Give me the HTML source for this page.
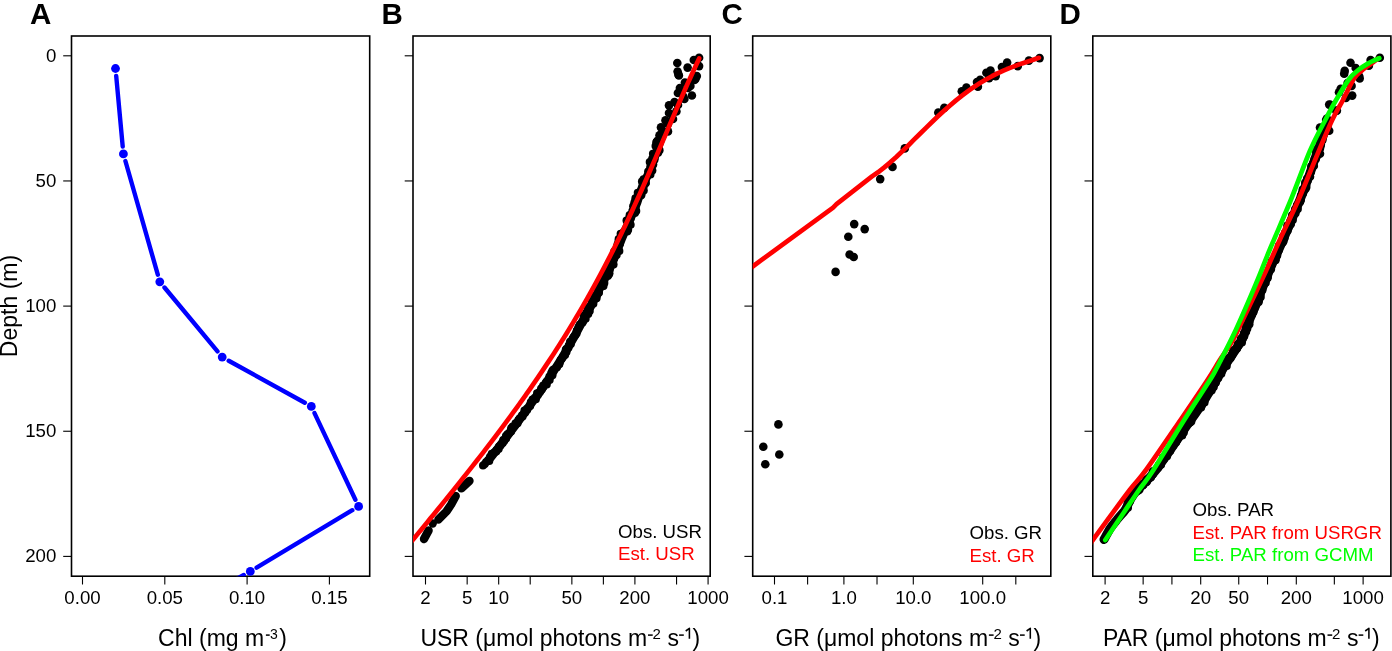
<!DOCTYPE html>
<html><head><meta charset="utf-8"><style>html,body{margin:0;padding:0;background:#fff;overflow:hidden}svg{display:block;will-change:transform}</style></head>
<body><svg width="1392" height="651" viewBox="0 0 1392 651" font-family='"Liberation Sans", sans-serif'><defs><clipPath id="clipA"><rect x="71.50" y="36.00" width="298.20" height="540.20"/></clipPath><clipPath id="clipB"><rect x="413.00" y="36.00" width="297.20" height="540.20"/></clipPath><clipPath id="clipC"><rect x="752.70" y="36.00" width="298.10" height="540.20"/></clipPath><clipPath id="clipD"><rect x="1092.80" y="36.00" width="298.10" height="540.20"/></clipPath></defs><rect width="1392" height="651" fill="#fff"/><rect x="71.50" y="36.00" width="298.20" height="540.20" fill="none" stroke="#000" stroke-width="1.6"/>
<line x1="63.20" y1="55.80" x2="71.50" y2="55.80" stroke="#000" stroke-width="1.1"/>
<line x1="63.20" y1="180.95" x2="71.50" y2="180.95" stroke="#000" stroke-width="1.1"/>
<line x1="63.20" y1="306.10" x2="71.50" y2="306.10" stroke="#000" stroke-width="1.1"/>
<line x1="63.20" y1="431.25" x2="71.50" y2="431.25" stroke="#000" stroke-width="1.1"/>
<line x1="63.20" y1="556.40" x2="71.50" y2="556.40" stroke="#000" stroke-width="1.1"/>
<rect x="413.00" y="36.00" width="297.20" height="540.20" fill="none" stroke="#000" stroke-width="1.6"/>
<line x1="404.70" y1="55.80" x2="413.00" y2="55.80" stroke="#000" stroke-width="1.1"/>
<line x1="404.70" y1="180.95" x2="413.00" y2="180.95" stroke="#000" stroke-width="1.1"/>
<line x1="404.70" y1="306.10" x2="413.00" y2="306.10" stroke="#000" stroke-width="1.1"/>
<line x1="404.70" y1="431.25" x2="413.00" y2="431.25" stroke="#000" stroke-width="1.1"/>
<line x1="404.70" y1="556.40" x2="413.00" y2="556.40" stroke="#000" stroke-width="1.1"/>
<rect x="752.70" y="36.00" width="298.10" height="540.20" fill="none" stroke="#000" stroke-width="1.6"/>
<line x1="744.40" y1="55.80" x2="752.70" y2="55.80" stroke="#000" stroke-width="1.1"/>
<line x1="744.40" y1="180.95" x2="752.70" y2="180.95" stroke="#000" stroke-width="1.1"/>
<line x1="744.40" y1="306.10" x2="752.70" y2="306.10" stroke="#000" stroke-width="1.1"/>
<line x1="744.40" y1="431.25" x2="752.70" y2="431.25" stroke="#000" stroke-width="1.1"/>
<line x1="744.40" y1="556.40" x2="752.70" y2="556.40" stroke="#000" stroke-width="1.1"/>
<rect x="1092.80" y="36.00" width="298.10" height="540.20" fill="none" stroke="#000" stroke-width="1.6"/>
<line x1="1084.50" y1="55.80" x2="1092.80" y2="55.80" stroke="#000" stroke-width="1.1"/>
<line x1="1084.50" y1="180.95" x2="1092.80" y2="180.95" stroke="#000" stroke-width="1.1"/>
<line x1="1084.50" y1="306.10" x2="1092.80" y2="306.10" stroke="#000" stroke-width="1.1"/>
<line x1="1084.50" y1="431.25" x2="1092.80" y2="431.25" stroke="#000" stroke-width="1.1"/>
<line x1="1084.50" y1="556.40" x2="1092.80" y2="556.40" stroke="#000" stroke-width="1.1"/>
<text x="56.30" y="61.80" font-size="18.67" text-anchor="end" fill="#000" font-weight="normal" >0</text>
<text x="56.30" y="186.95" font-size="18.67" text-anchor="end" fill="#000" font-weight="normal" >50</text>
<text x="56.30" y="312.10" font-size="18.67" text-anchor="end" fill="#000" font-weight="normal" >100</text>
<text x="56.30" y="437.25" font-size="18.67" text-anchor="end" fill="#000" font-weight="normal" >150</text>
<text x="56.30" y="562.40" font-size="18.67" text-anchor="end" fill="#000" font-weight="normal" >200</text>
<line x1="82.50" y1="576.20" x2="82.50" y2="584.50" stroke="#000" stroke-width="1.1"/>
<line x1="164.80" y1="576.20" x2="164.80" y2="584.50" stroke="#000" stroke-width="1.1"/>
<line x1="247.10" y1="576.20" x2="247.10" y2="584.50" stroke="#000" stroke-width="1.1"/>
<line x1="329.40" y1="576.20" x2="329.40" y2="584.50" stroke="#000" stroke-width="1.1"/>
<text x="82.50" y="603.50" font-size="18.67" text-anchor="middle" fill="#000" font-weight="normal" >0.00</text>
<text x="164.80" y="603.50" font-size="18.67" text-anchor="middle" fill="#000" font-weight="normal" >0.05</text>
<text x="247.10" y="603.50" font-size="18.67" text-anchor="middle" fill="#000" font-weight="normal" >0.10</text>
<text x="329.40" y="603.50" font-size="18.67" text-anchor="middle" fill="#000" font-weight="normal" >0.15</text>
<line x1="425.50" y1="576.20" x2="425.50" y2="584.50" stroke="#000" stroke-width="1.1"/>
<line x1="467.16" y1="576.20" x2="467.16" y2="584.50" stroke="#000" stroke-width="1.1"/>
<line x1="498.68" y1="576.20" x2="498.68" y2="584.50" stroke="#000" stroke-width="1.1"/>
<line x1="530.20" y1="576.20" x2="530.20" y2="584.50" stroke="#000" stroke-width="1.1"/>
<line x1="571.86" y1="576.20" x2="571.86" y2="584.50" stroke="#000" stroke-width="1.1"/>
<line x1="603.38" y1="576.20" x2="603.38" y2="584.50" stroke="#000" stroke-width="1.1"/>
<line x1="634.90" y1="576.20" x2="634.90" y2="584.50" stroke="#000" stroke-width="1.1"/>
<line x1="676.56" y1="576.20" x2="676.56" y2="584.50" stroke="#000" stroke-width="1.1"/>
<line x1="708.08" y1="576.20" x2="708.08" y2="584.50" stroke="#000" stroke-width="1.1"/>
<text x="425.50" y="603.50" font-size="18.67" text-anchor="middle" fill="#000" font-weight="normal" >2</text>
<text x="467.16" y="603.50" font-size="18.67" text-anchor="middle" fill="#000" font-weight="normal" >5</text>
<text x="498.68" y="603.50" font-size="18.67" text-anchor="middle" fill="#000" font-weight="normal" >10</text>
<text x="571.86" y="603.50" font-size="18.67" text-anchor="middle" fill="#000" font-weight="normal" >50</text>
<text x="634.90" y="603.50" font-size="18.67" text-anchor="middle" fill="#000" font-weight="normal" >200</text>
<text x="708.08" y="603.50" font-size="18.67" text-anchor="middle" fill="#000" font-weight="normal" >1000</text>
<line x1="774.50" y1="576.20" x2="774.50" y2="584.50" stroke="#000" stroke-width="1.1"/>
<line x1="807.61" y1="576.20" x2="807.61" y2="584.50" stroke="#000" stroke-width="1.1"/>
<line x1="843.90" y1="576.20" x2="843.90" y2="584.50" stroke="#000" stroke-width="1.1"/>
<line x1="877.01" y1="576.20" x2="877.01" y2="584.50" stroke="#000" stroke-width="1.1"/>
<line x1="913.30" y1="576.20" x2="913.30" y2="584.50" stroke="#000" stroke-width="1.1"/>
<line x1="982.70" y1="576.20" x2="982.70" y2="584.50" stroke="#000" stroke-width="1.1"/>
<line x1="1015.81" y1="576.20" x2="1015.81" y2="584.50" stroke="#000" stroke-width="1.1"/>
<text x="774.50" y="603.50" font-size="18.67" text-anchor="middle" fill="#000" font-weight="normal" >0.1</text>
<text x="843.90" y="603.50" font-size="18.67" text-anchor="middle" fill="#000" font-weight="normal" >1.0</text>
<text x="913.30" y="603.50" font-size="18.67" text-anchor="middle" fill="#000" font-weight="normal" >10.0</text>
<text x="982.70" y="603.50" font-size="18.67" text-anchor="middle" fill="#000" font-weight="normal" >100.0</text>
<line x1="1105.10" y1="576.20" x2="1105.10" y2="584.50" stroke="#000" stroke-width="1.1"/>
<line x1="1143.14" y1="576.20" x2="1143.14" y2="584.50" stroke="#000" stroke-width="1.1"/>
<line x1="1171.92" y1="576.20" x2="1171.92" y2="584.50" stroke="#000" stroke-width="1.1"/>
<line x1="1200.70" y1="576.20" x2="1200.70" y2="584.50" stroke="#000" stroke-width="1.1"/>
<line x1="1238.74" y1="576.20" x2="1238.74" y2="584.50" stroke="#000" stroke-width="1.1"/>
<line x1="1267.52" y1="576.20" x2="1267.52" y2="584.50" stroke="#000" stroke-width="1.1"/>
<line x1="1296.30" y1="576.20" x2="1296.30" y2="584.50" stroke="#000" stroke-width="1.1"/>
<line x1="1334.34" y1="576.20" x2="1334.34" y2="584.50" stroke="#000" stroke-width="1.1"/>
<line x1="1363.12" y1="576.20" x2="1363.12" y2="584.50" stroke="#000" stroke-width="1.1"/>
<text x="1105.10" y="603.50" font-size="18.67" text-anchor="middle" fill="#000" font-weight="normal" >2</text>
<text x="1143.14" y="603.50" font-size="18.67" text-anchor="middle" fill="#000" font-weight="normal" >5</text>
<text x="1200.70" y="603.50" font-size="18.67" text-anchor="middle" fill="#000" font-weight="normal" >20</text>
<text x="1238.74" y="603.50" font-size="18.67" text-anchor="middle" fill="#000" font-weight="normal" >50</text>
<text x="1296.30" y="603.50" font-size="18.67" text-anchor="middle" fill="#000" font-weight="normal" >200</text>
<text x="1363.12" y="603.50" font-size="18.67" text-anchor="middle" fill="#000" font-weight="normal" >1000</text>
<text x="30.00" y="24.00" font-size="29.5" text-anchor="start" fill="#000" font-weight="bold" >A</text>
<text x="381.50" y="24.00" font-size="29.5" text-anchor="start" fill="#000" font-weight="bold" >B</text>
<text x="721.50" y="24.00" font-size="29.5" text-anchor="start" fill="#000" font-weight="bold" >C</text>
<text x="1059.50" y="24.00" font-size="29.5" text-anchor="start" fill="#000" font-weight="bold" >D</text>
<text x="158.10" y="645.5" font-size="23.0">Chl (mg m</text>
<rect x="265.90" y="634.35" width="3.8" height="1.5" fill="#000"/>
<text x="269.90" y="638.5" font-size="14">3</text>
<text x="279.30" y="645.5" font-size="23.0">)</text>
<text x="420.40" y="645.5" font-size="23.0">USR (μmol photons m</text>
<rect x="648.00" y="634.35" width="4.7" height="1.5" fill="#000"/>
<text x="652.60" y="638.7" font-size="15">2</text>
<text x="667.40" y="645.5" font-size="23.0">s</text>
<rect x="679.10" y="634.35" width="4.7" height="1.5" fill="#000"/>
<path d="M689.40,638.70V628.3L685.70,631.0" fill="none" stroke="#000" stroke-width="1.55" stroke-linejoin="round"/>
<text x="692.50" y="645.5" font-size="23.0">)</text>
<text x="775.40" y="645.5" font-size="23.0">GR (μmol photons m</text>
<rect x="988.90" y="634.35" width="4.7" height="1.5" fill="#000"/>
<text x="993.50" y="638.7" font-size="15">2</text>
<text x="1008.30" y="645.5" font-size="23.0">s</text>
<rect x="1020.00" y="634.35" width="4.7" height="1.5" fill="#000"/>
<path d="M1030.30,638.70V628.3L1026.60,631.0" fill="none" stroke="#000" stroke-width="1.55" stroke-linejoin="round"/>
<text x="1033.40" y="645.5" font-size="23.0">)</text>
<text x="1102.90" y="645.5" font-size="23.0">PAR (μmol photons m</text>
<rect x="1327.50" y="634.35" width="4.7" height="1.5" fill="#000"/>
<text x="1332.10" y="638.7" font-size="15">2</text>
<text x="1346.90" y="645.5" font-size="23.0">s</text>
<rect x="1358.60" y="634.35" width="4.7" height="1.5" fill="#000"/>
<path d="M1368.90,638.70V628.3L1365.20,631.0" fill="none" stroke="#000" stroke-width="1.55" stroke-linejoin="round"/>
<text x="1372.00" y="645.5" font-size="23.0">)</text>
<text x="17.0" y="306.0" font-size="23.0" text-anchor="middle" transform="rotate(-90 17.0 306.0)">Depth (m)</text>
<path d="M116.2,75.9L122.7,146.5M125.4,161.0L157.8,274.7M164.5,287.5L217.5,351.4M228.7,360.7L304.8,402.8M314.5,413.1L355.4,499.7M352.3,510.2L256.6,567.6M243.8,575.0L186.5,606.4" fill="none" stroke="#0000ff" stroke-width="4.4" stroke-linecap="round" clip-path="url(#clipA)"/>
<g fill="#0000ff" clip-path="url(#clipA)"><circle cx="115.5" cy="68.5" r="4.4"/><circle cx="123.4" cy="153.9" r="4.4"/><circle cx="159.8" cy="281.8" r="4.4"/><circle cx="222.2" cy="357.1" r="4.4"/><circle cx="311.3" cy="406.4" r="4.4"/><circle cx="358.6" cy="506.4" r="4.4"/><circle cx="250.3" cy="571.4" r="4.4"/></g>
<g fill="#000" clip-path="url(#clipB)"><circle cx="660.8" cy="134.6" r="4.0"/><circle cx="662.4" cy="135.9" r="4.0"/><circle cx="661.1" cy="138.7" r="4.0"/><circle cx="657.3" cy="140.8" r="4.0"/><circle cx="656.6" cy="142.1" r="4.0"/><circle cx="656.3" cy="142.3" r="4.0"/><circle cx="658.1" cy="146.9" r="4.0"/><circle cx="655.5" cy="146.1" r="4.0"/><circle cx="658.4" cy="150.6" r="4.0"/><circle cx="657.5" cy="150.0" r="4.0"/><circle cx="659.6" cy="150.2" r="4.0"/><circle cx="658.2" cy="152.8" r="4.0"/><circle cx="652.9" cy="153.7" r="4.0"/><circle cx="653.5" cy="158.1" r="4.0"/><circle cx="652.1" cy="158.7" r="4.0"/><circle cx="654.6" cy="159.5" r="4.0"/><circle cx="653.5" cy="159.9" r="4.0"/><circle cx="649.7" cy="162.0" r="4.0"/><circle cx="653.3" cy="164.5" r="4.0"/><circle cx="650.3" cy="166.7" r="4.0"/><circle cx="650.7" cy="167.2" r="4.0"/><circle cx="652.4" cy="170.4" r="4.0"/><circle cx="648.1" cy="171.5" r="4.0"/><circle cx="649.1" cy="174.3" r="4.0"/><circle cx="649.7" cy="173.6" r="4.0"/><circle cx="650.5" cy="174.5" r="4.0"/><circle cx="646.0" cy="178.6" r="4.0"/><circle cx="643.5" cy="179.2" r="4.0"/><circle cx="641.9" cy="181.5" r="4.0"/><circle cx="645.8" cy="182.7" r="4.0"/><circle cx="645.7" cy="183.3" r="4.0"/><circle cx="643.9" cy="186.0" r="4.0"/><circle cx="642.6" cy="187.0" r="4.0"/><circle cx="643.8" cy="190.5" r="4.0"/><circle cx="640.9" cy="191.0" r="4.0"/><circle cx="637.7" cy="192.8" r="4.0"/><circle cx="641.0" cy="195.5" r="4.0"/><circle cx="641.6" cy="194.4" r="4.0"/><circle cx="638.2" cy="197.4" r="4.0"/><circle cx="635.4" cy="198.3" r="4.0"/><circle cx="635.8" cy="198.5" r="4.0"/><circle cx="634.6" cy="202.6" r="4.0"/><circle cx="634.5" cy="202.2" r="4.0"/><circle cx="635.7" cy="206.2" r="4.0"/><circle cx="633.1" cy="206.2" r="4.0"/><circle cx="635.3" cy="209.4" r="4.0"/><circle cx="636.3" cy="210.9" r="4.0"/><circle cx="632.3" cy="210.9" r="4.0"/><circle cx="632.1" cy="214.2" r="4.0"/><circle cx="635.0" cy="213.1" r="4.0"/><circle cx="629.6" cy="215.0" r="4.0"/><circle cx="629.3" cy="217.5" r="4.0"/><circle cx="630.7" cy="218.4" r="4.0"/><circle cx="626.5" cy="220.5" r="4.0"/><circle cx="628.0" cy="222.6" r="4.0"/><circle cx="630.7" cy="224.7" r="4.0"/><circle cx="627.4" cy="226.0" r="4.0"/><circle cx="627.6" cy="225.7" r="4.0"/><circle cx="628.2" cy="229.8" r="4.0"/><circle cx="627.3" cy="231.4" r="4.0"/><circle cx="623.9" cy="231.7" r="4.0"/><circle cx="621.5" cy="234.0" r="4.0"/><circle cx="620.6" cy="233.8" r="4.0"/><circle cx="620.9" cy="235.7" r="4.0"/><circle cx="621.0" cy="236.9" r="4.0"/><circle cx="618.6" cy="238.9" r="4.0"/><circle cx="618.5" cy="241.2" r="4.0"/><circle cx="617.5" cy="244.4" r="4.0"/><circle cx="620.0" cy="243.7" r="4.0"/><circle cx="617.5" cy="245.9" r="4.0"/><circle cx="617.5" cy="246.8" r="4.0"/><circle cx="619.4" cy="251.1" r="4.0"/><circle cx="616.8" cy="251.2" r="4.0"/><circle cx="614.2" cy="251.6" r="4.0"/><circle cx="614.9" cy="253.7" r="4.0"/><circle cx="616.7" cy="255.0" r="4.0"/><circle cx="612.1" cy="258.9" r="4.0"/><circle cx="614.0" cy="258.2" r="4.0"/><circle cx="613.4" cy="259.4" r="4.0"/><circle cx="612.7" cy="263.8" r="4.0"/><circle cx="613.6" cy="264.6" r="4.0"/><circle cx="610.1" cy="265.2" r="4.0"/><circle cx="608.8" cy="268.0" r="4.0"/><circle cx="609.8" cy="269.6" r="4.0"/><circle cx="608.1" cy="269.6" r="4.0"/><circle cx="609.5" cy="273.3" r="4.0"/><circle cx="608.9" cy="274.4" r="4.0"/><circle cx="607.9" cy="275.9" r="4.0"/><circle cx="604.5" cy="276.8" r="4.0"/><circle cx="604.2" cy="277.1" r="4.0"/><circle cx="602.0" cy="279.4" r="4.0"/><circle cx="602.2" cy="282.1" r="4.0"/><circle cx="604.4" cy="283.1" r="4.0"/><circle cx="603.5" cy="286.1" r="4.0"/><circle cx="602.8" cy="286.1" r="4.0"/><circle cx="598.8" cy="287.3" r="4.0"/><circle cx="597.9" cy="288.9" r="4.0"/><circle cx="598.9" cy="292.2" r="4.0"/><circle cx="598.9" cy="292.7" r="4.0"/><circle cx="597.3" cy="295.1" r="4.0"/><circle cx="594.2" cy="296.4" r="4.0"/><circle cx="596.6" cy="298.3" r="4.0"/><circle cx="595.1" cy="299.1" r="4.0"/><circle cx="592.1" cy="301.5" r="4.0"/><circle cx="591.8" cy="303.1" r="4.0"/><circle cx="593.4" cy="303.8" r="4.0"/><circle cx="590.4" cy="306.6" r="4.0"/><circle cx="590.8" cy="306.5" r="4.0"/><circle cx="587.7" cy="308.0" r="4.0"/><circle cx="589.8" cy="311.1" r="4.0"/><circle cx="586.2" cy="312.7" r="4.0"/><circle cx="588.3" cy="313.9" r="4.0"/><circle cx="585.2" cy="315.3" r="4.0"/><circle cx="583.6" cy="315.8" r="4.0"/><circle cx="585.7" cy="318.7" r="4.0"/><circle cx="583.3" cy="320.9" r="4.0"/><circle cx="582.1" cy="322.4" r="4.0"/><circle cx="582.6" cy="322.6" r="4.0"/><circle cx="579.8" cy="324.4" r="4.0"/><circle cx="578.9" cy="326.6" r="4.0"/><circle cx="578.2" cy="327.8" r="4.0"/><circle cx="576.9" cy="330.4" r="4.0"/><circle cx="576.7" cy="331.1" r="4.0"/><circle cx="576.6" cy="333.6" r="4.0"/><circle cx="575.2" cy="335.2" r="4.0"/><circle cx="574.6" cy="336.1" r="4.0"/><circle cx="573.8" cy="336.7" r="4.0"/><circle cx="572.6" cy="338.6" r="4.0"/><circle cx="570.3" cy="341.4" r="4.0"/><circle cx="570.0" cy="342.3" r="4.0"/><circle cx="570.9" cy="344.1" r="4.0"/><circle cx="568.7" cy="345.6" r="4.0"/><circle cx="568.5" cy="347.7" r="4.0"/><circle cx="566.2" cy="348.9" r="4.0"/><circle cx="565.7" cy="350.0" r="4.0"/><circle cx="566.5" cy="352.0" r="4.0"/><circle cx="564.9" cy="354.1" r="4.0"/><circle cx="565.1" cy="355.1" r="4.0"/><circle cx="563.1" cy="356.8" r="4.0"/><circle cx="561.8" cy="358.8" r="4.0"/><circle cx="560.6" cy="360.1" r="4.0"/><circle cx="559.7" cy="362.4" r="4.0"/><circle cx="559.4" cy="363.9" r="4.0"/><circle cx="559.1" cy="364.3" r="4.0"/><circle cx="556.9" cy="367.3" r="4.0"/><circle cx="556.8" cy="367.3" r="4.0"/><circle cx="553.4" cy="369.5" r="4.0"/><circle cx="552.3" cy="370.7" r="4.0"/><circle cx="551.2" cy="373.1" r="4.0"/><circle cx="552.5" cy="375.2" r="4.0"/><circle cx="549.4" cy="376.4" r="4.0"/><circle cx="550.0" cy="376.9" r="4.0"/><circle cx="549.7" cy="380.1" r="4.0"/><circle cx="546.5" cy="381.7" r="4.0"/><circle cx="546.0" cy="382.4" r="4.0"/><circle cx="546.8" cy="384.6" r="4.0"/><circle cx="543.1" cy="385.5" r="4.0"/><circle cx="543.2" cy="386.9" r="4.0"/><circle cx="541.1" cy="388.5" r="4.0"/><circle cx="541.7" cy="389.5" r="4.0"/><circle cx="539.9" cy="391.9" r="4.0"/><circle cx="537.0" cy="393.3" r="4.0"/><circle cx="537.8" cy="395.2" r="4.0"/><circle cx="534.8" cy="397.7" r="4.0"/><circle cx="535.9" cy="399.3" r="4.0"/><circle cx="532.5" cy="399.5" r="4.0"/><circle cx="531.1" cy="402.1" r="4.0"/><circle cx="530.7" cy="402.5" r="4.0"/><circle cx="530.0" cy="405.6" r="4.0"/><circle cx="530.2" cy="405.9" r="4.0"/><circle cx="526.9" cy="408.8" r="4.0"/><circle cx="527.1" cy="410.0" r="4.0"/><circle cx="524.4" cy="410.4" r="4.0"/><circle cx="525.1" cy="412.7" r="4.0"/><circle cx="522.0" cy="415.2" r="4.0"/><circle cx="522.6" cy="416.6" r="4.0"/><circle cx="519.7" cy="418.3" r="4.0"/><circle cx="518.4" cy="419.9" r="4.0"/><circle cx="518.5" cy="420.5" r="4.0"/><circle cx="517.6" cy="423.2" r="4.0"/><circle cx="515.5" cy="423.3" r="4.0"/><circle cx="515.2" cy="425.1" r="4.0"/><circle cx="512.6" cy="426.5" r="4.0"/><circle cx="511.2" cy="428.2" r="4.0"/><circle cx="510.9" cy="430.0" r="4.0"/><circle cx="511.1" cy="431.6" r="4.0"/><circle cx="509.1" cy="433.0" r="4.0"/><circle cx="507.4" cy="434.3" r="4.0"/><circle cx="505.9" cy="435.9" r="4.0"/><circle cx="506.2" cy="438.5" r="4.0"/><circle cx="503.2" cy="440.0" r="4.0"/><circle cx="504.4" cy="440.8" r="4.0"/><circle cx="502.8" cy="443.1" r="4.0"/><circle cx="500.6" cy="445.4" r="4.0"/><circle cx="499.0" cy="446.4" r="4.0"/><circle cx="498.7" cy="448.9" r="4.0"/><circle cx="496.4" cy="450.2" r="4.0"/><circle cx="496.3" cy="451.5" r="4.0"/><circle cx="494.1" cy="452.5" r="4.0"/><circle cx="491.7" cy="453.7" r="4.0"/><circle cx="490.6" cy="456.5" r="4.0"/><circle cx="489.9" cy="457.0" r="4.0"/><circle cx="488.1" cy="459.9" r="4.0"/><circle cx="489.3" cy="461.1" r="4.0"/><circle cx="486.1" cy="461.9" r="4.0"/><circle cx="484.8" cy="463.9" r="4.0"/><circle cx="483.0" cy="465.5" r="4.0"/></g>
<polyline points="662.0,136.0 659.9,142.0 657.8,148.0 655.7,154.0 653.7,160.0 651.7,166.0 649.4,172.0 646.3,178.0 643.3,184.0 641.2,190.0 639.2,196.0 637.3,202.0 635.0,208.0 632.4,214.0 629.8,220.0 627.2,226.0 624.5,232.0 622.0,238.0 619.7,244.0 617.4,250.0 615.1,256.0 612.7,262.0 610.0,268.0 607.1,274.0 604.1,280.0 601.0,286.0 597.9,292.0 594.8,298.0 591.6,304.0 588.5,310.0 585.3,316.0 582.1,322.0 578.9,328.0 575.7,334.0 572.4,340.0 569.0,346.0 565.6,352.0 562.0,358.0 558.2,364.0 554.4,370.0 550.5,376.0 546.6,382.0 542.6,388.0 538.3,394.0 533.7,400.0 529.4,406.0 525.1,412.0 520.7,418.0 516.3,424.0 511.8,430.0 507.3,436.0 502.7,442.0 498.1,448.0 493.5,454.0 488.8,460.0" fill="none" stroke="#000" stroke-width="8.5" stroke-linecap="round" stroke-linejoin="round" clip-path="url(#clipB)"/>
<polyline points="424.0,539.0 428.6,530.4" fill="none" stroke="#000" stroke-width="8.4" stroke-linecap="round" stroke-linejoin="round" clip-path="url(#clipB)"/>
<polyline points="432.7,523.5 432.7,523.5" fill="none" stroke="#000" stroke-width="8.4" stroke-linecap="round" stroke-linejoin="round" clip-path="url(#clipB)"/>
<polyline points="438.4,519.5 446.5,511.4 451.1,504.5 455.7,495.9" fill="none" stroke="#000" stroke-width="8.4" stroke-linecap="round" stroke-linejoin="round" clip-path="url(#clipB)"/>
<polyline points="461.4,488.4 469.5,480.9" fill="none" stroke="#000" stroke-width="8.4" stroke-linecap="round" stroke-linejoin="round" clip-path="url(#clipB)"/>
<g fill="#000" clip-path="url(#clipB)"><circle cx="699.1" cy="57.7" r="4.3"/><circle cx="693.8" cy="60.0" r="4.3"/><circle cx="677.3" cy="63.0" r="4.3"/><circle cx="677.6" cy="71.5" r="4.3"/><circle cx="678.4" cy="74.6" r="4.3"/><circle cx="687.6" cy="67.6" r="4.3"/><circle cx="699.1" cy="66.1" r="4.3"/><circle cx="696.8" cy="76.1" r="4.3"/><circle cx="694.5" cy="80.0" r="4.3"/><circle cx="678.9" cy="75.5" r="4.3"/><circle cx="695.4" cy="79.0" r="4.3"/><circle cx="684.9" cy="82.5" r="4.3"/><circle cx="679.9" cy="88.0" r="4.3"/><circle cx="677.9" cy="93.0" r="4.3"/><circle cx="690.4" cy="86.0" r="4.3"/><circle cx="691.9" cy="95.5" r="4.3"/><circle cx="684.4" cy="99.0" r="4.3"/><circle cx="674.5" cy="102.0" r="4.3"/><circle cx="669.0" cy="105.4" r="4.3"/><circle cx="676.4" cy="111.4" r="4.3"/><circle cx="669.0" cy="113.0" r="4.3"/><circle cx="673.0" cy="119.0" r="4.3"/><circle cx="665.5" cy="120.4" r="4.3"/><circle cx="661.0" cy="127.4" r="4.3"/><circle cx="668.0" cy="131.4" r="4.3"/><circle cx="659.5" cy="135.4" r="4.3"/><circle cx="688.0" cy="88.0" r="4.3"/><circle cx="683.0" cy="96.0" r="4.3"/><circle cx="678.0" cy="105.0" r="4.3"/><circle cx="672.0" cy="115.0" r="4.3"/><circle cx="668.0" cy="124.0" r="4.3"/><circle cx="664.0" cy="132.0" r="4.3"/></g>
<path d="M699.19,58.40C698.57,59.73 696.69,63.73 695.45,66.40C694.22,69.07 693.00,71.73 691.78,74.40C690.57,77.07 689.37,79.73 688.18,82.40C686.99,85.07 685.80,87.73 684.63,90.40C683.45,93.07 682.28,95.73 681.12,98.40C679.96,101.07 678.80,103.73 677.65,106.40C676.50,109.07 675.35,111.73 674.20,114.40C673.06,117.07 671.92,119.73 670.78,122.40C669.64,125.07 668.50,127.73 667.36,130.40C666.23,133.07 665.09,135.73 663.95,138.40C662.81,141.07 661.68,143.73 660.54,146.40C659.40,149.07 658.26,151.73 657.11,154.40C655.97,157.07 654.82,159.73 653.67,162.40C652.51,165.07 651.36,167.73 650.20,170.40C649.04,173.07 647.87,175.73 646.70,178.40C645.53,181.07 644.35,183.73 643.17,186.40C641.98,189.07 640.79,191.73 639.59,194.40C638.39,197.07 637.18,199.73 635.97,202.40C634.75,205.07 633.53,207.73 632.29,210.40C631.06,213.07 629.81,215.73 628.56,218.40C627.31,221.07 626.04,223.73 624.77,226.40C623.49,229.07 622.21,231.73 620.91,234.40C619.61,237.07 618.30,239.73 616.98,242.40C615.66,245.07 614.33,247.73 612.98,250.40C611.63,253.07 610.28,255.73 608.90,258.40C607.53,261.07 606.15,263.73 604.75,266.40C603.35,269.07 601.94,271.73 600.51,274.40C599.09,277.07 597.65,279.73 596.19,282.40C594.74,285.07 593.27,287.73 591.78,290.40C590.30,293.07 588.80,295.73 587.29,298.40C585.78,301.07 584.25,303.73 582.70,306.40C581.16,309.07 579.60,311.73 578.03,314.40C576.45,317.07 574.86,319.73 573.26,322.40C571.66,325.07 570.04,327.73 568.40,330.40C566.76,333.07 565.11,335.73 563.45,338.40C561.78,341.07 560.10,343.73 558.40,346.40C556.70,349.07 554.99,351.73 553.26,354.40C551.53,357.07 549.79,359.73 548.03,362.40C546.27,365.07 544.49,367.73 542.70,370.40C540.91,373.07 539.11,375.73 537.29,378.40C535.47,381.07 533.63,383.73 531.78,386.40C529.93,389.07 528.07,391.73 526.19,394.40C524.31,397.07 522.42,399.73 520.51,402.40C518.60,405.07 516.68,407.73 514.75,410.40C512.81,413.07 510.86,415.73 508.90,418.40C506.94,421.07 504.96,423.73 502.98,426.40C500.99,429.07 498.99,431.73 496.98,434.40C494.97,437.07 492.94,439.73 490.91,442.40C488.87,445.07 486.82,447.73 484.77,450.40C482.71,453.07 480.64,455.73 478.56,458.40C476.48,461.07 474.39,463.73 472.29,466.40C470.20,469.07 468.09,471.73 465.97,474.40C463.85,477.07 461.73,479.73 459.60,482.40C457.46,485.07 455.32,487.73 453.18,490.40C451.03,493.07 448.87,495.73 446.71,498.40C444.55,501.07 442.39,503.73 440.21,506.40C438.04,509.07 435.87,511.73 433.69,514.40C431.51,517.07 429.32,519.73 427.14,522.40C424.95,525.07 422.76,527.73 420.57,530.40C418.38,533.07 415.99,535.97 413.99,538.40C411.99,540.83 409.46,543.90 408.56,545.00" fill="none" stroke="#ff0000" stroke-width="4.7" stroke-linecap="round" stroke-linejoin="round" clip-path="url(#clipB)"/>
<g fill="#000" clip-path="url(#clipC)"><circle cx="1039.6" cy="58.1" r="4.3"/><circle cx="1028.9" cy="60.6" r="4.3"/><circle cx="1017.8" cy="66.1" r="4.3"/><circle cx="1007.1" cy="62.6" r="4.3"/><circle cx="1001.9" cy="67.1" r="4.3"/><circle cx="990.5" cy="70.6" r="4.3"/><circle cx="995.7" cy="76.1" r="4.3"/><circle cx="989.1" cy="78.2" r="4.3"/><circle cx="986.4" cy="72.7" r="4.3"/><circle cx="938.3" cy="112.5" r="4.3"/><circle cx="944.3" cy="107.9" r="4.3"/><circle cx="961.8" cy="91.3" r="4.3"/><circle cx="966.4" cy="87.6" r="4.3"/><circle cx="977.0" cy="82.1" r="4.3"/><circle cx="980.2" cy="79.8" r="4.3"/><circle cx="977.9" cy="86.7" r="4.3"/><circle cx="904.8" cy="148.4" r="4.3"/><circle cx="892.5" cy="166.9" r="4.3"/><circle cx="880.2" cy="179.1" r="4.3"/><circle cx="854.2" cy="224.1" r="4.3"/><circle cx="864.7" cy="229.1" r="4.3"/><circle cx="848.3" cy="236.7" r="4.3"/><circle cx="849.6" cy="254.5" r="4.3"/><circle cx="853.7" cy="257.0" r="4.3"/><circle cx="835.6" cy="271.9" r="4.3"/><circle cx="778.4" cy="424.4" r="4.3"/><circle cx="763.3" cy="446.7" r="4.3"/><circle cx="779.3" cy="454.5" r="4.3"/><circle cx="765.3" cy="464.2" r="4.3"/></g>
<polyline points="752.0,267.0 833.1,207.6 836.5,204.2 872.0,176.4 878.0,172.3 884.0,167.6 890.0,162.6 896.0,157.2 902.0,151.5 908.0,145.7 914.0,139.7 920.0,133.8 926.0,127.8 932.0,122.0 938.0,116.3 944.0,110.8 950.0,105.5 956.0,100.4 962.0,95.6 968.0,91.1 974.0,86.9 980.0,83.1 986.0,79.5 992.0,76.2 998.0,73.2 1004.0,70.4 1010.0,67.9 1016.0,65.6 1022.0,63.4 1028.0,61.4 1034.0,59.4 1038.9,57.8" fill="none" stroke="#ff0000" stroke-width="4.7" stroke-linecap="round" stroke-linejoin="round" clip-path="url(#clipC)"/>
<path d="M1104.00,539.50C1105.08,537.58 1108.25,531.42 1110.50,528.00C1112.75,524.58 1115.00,522.10 1117.50,519.00C1120.00,515.90 1122.75,513.57 1125.50,509.40C1128.25,505.23 1128.92,500.57 1134.00,494.00C1139.08,487.43 1147.00,481.67 1156.00,470.00C1165.00,458.33 1180.17,435.27 1188.00,424.00C1195.83,412.73 1196.92,412.00 1203.00,402.40C1209.08,392.80 1218.07,376.80 1224.50,366.40C1230.93,356.00 1237.43,347.73 1241.60,340.00C1245.77,332.27 1246.77,326.67 1249.50,320.00C1252.23,313.33 1255.92,305.15 1258.00,300.00C1260.08,294.85 1259.67,295.00 1262.00,289.10C1264.33,283.20 1268.50,272.78 1272.00,264.60C1275.50,256.42 1277.75,252.27 1283.00,240.00C1288.25,227.73 1297.67,206.00 1303.50,191.00C1309.33,176.00 1314.08,161.00 1318.00,150.00C1321.92,139.00 1325.50,129.17 1327.00,125.00" fill="none" stroke="#000" stroke-width="9" stroke-linecap="round" stroke-linejoin="round" clip-path="url(#clipD)"/>
<g fill="#000" clip-path="url(#clipD)"><circle cx="1124.7" cy="510.5" r="4.0"/><circle cx="1128.0" cy="507.8" r="4.0"/><circle cx="1126.6" cy="507.1" r="4.0"/><circle cx="1127.7" cy="503.9" r="4.0"/><circle cx="1127.7" cy="502.3" r="4.0"/><circle cx="1130.1" cy="500.9" r="4.0"/><circle cx="1130.2" cy="499.1" r="4.0"/><circle cx="1130.5" cy="496.9" r="4.0"/><circle cx="1131.7" cy="495.5" r="4.0"/><circle cx="1132.5" cy="492.9" r="4.0"/><circle cx="1134.6" cy="492.0" r="4.0"/><circle cx="1136.7" cy="491.4" r="4.0"/><circle cx="1138.5" cy="490.4" r="4.0"/><circle cx="1139.6" cy="489.6" r="4.0"/><circle cx="1139.8" cy="486.9" r="4.0"/><circle cx="1142.9" cy="485.2" r="4.0"/><circle cx="1143.3" cy="485.0" r="4.0"/><circle cx="1142.3" cy="484.1" r="4.0"/><circle cx="1146.3" cy="482.3" r="4.0"/><circle cx="1147.0" cy="481.4" r="4.0"/><circle cx="1146.3" cy="479.4" r="4.0"/><circle cx="1148.7" cy="478.8" r="4.0"/><circle cx="1150.9" cy="477.5" r="4.0"/><circle cx="1151.4" cy="476.3" r="4.0"/><circle cx="1152.9" cy="474.5" r="4.0"/><circle cx="1152.7" cy="471.5" r="4.0"/><circle cx="1153.6" cy="471.0" r="4.0"/><circle cx="1154.7" cy="470.8" r="4.0"/><circle cx="1157.2" cy="468.8" r="4.0"/><circle cx="1158.5" cy="467.5" r="4.0"/><circle cx="1159.1" cy="464.4" r="4.0"/><circle cx="1161.1" cy="464.7" r="4.0"/><circle cx="1161.2" cy="462.7" r="4.0"/><circle cx="1162.7" cy="460.1" r="4.0"/><circle cx="1164.0" cy="459.0" r="4.0"/><circle cx="1162.9" cy="457.6" r="4.0"/><circle cx="1166.0" cy="455.9" r="4.0"/><circle cx="1167.1" cy="456.3" r="4.0"/><circle cx="1167.3" cy="453.4" r="4.0"/><circle cx="1168.3" cy="452.6" r="4.0"/><circle cx="1170.3" cy="451.0" r="4.0"/><circle cx="1170.9" cy="448.2" r="4.0"/><circle cx="1170.4" cy="447.2" r="4.0"/><circle cx="1173.3" cy="445.8" r="4.0"/><circle cx="1173.8" cy="443.6" r="4.0"/><circle cx="1173.2" cy="442.7" r="4.0"/><circle cx="1176.2" cy="442.3" r="4.0"/><circle cx="1177.2" cy="439.8" r="4.0"/><circle cx="1177.7" cy="438.8" r="4.0"/><circle cx="1178.6" cy="436.4" r="4.0"/><circle cx="1181.0" cy="435.1" r="4.0"/><circle cx="1182.3" cy="435.4" r="4.0"/><circle cx="1180.3" cy="432.8" r="4.0"/><circle cx="1183.9" cy="432.5" r="4.0"/><circle cx="1183.7" cy="429.4" r="4.0"/><circle cx="1184.0" cy="429.5" r="4.0"/><circle cx="1185.0" cy="427.2" r="4.0"/><circle cx="1185.8" cy="425.5" r="4.0"/><circle cx="1189.4" cy="423.1" r="4.0"/><circle cx="1190.1" cy="422.5" r="4.0"/><circle cx="1191.4" cy="421.4" r="4.0"/><circle cx="1190.4" cy="420.3" r="4.0"/><circle cx="1192.2" cy="416.7" r="4.0"/><circle cx="1191.8" cy="416.3" r="4.0"/><circle cx="1194.3" cy="414.3" r="4.0"/><circle cx="1194.4" cy="412.8" r="4.0"/><circle cx="1196.0" cy="412.5" r="4.0"/><circle cx="1196.0" cy="410.7" r="4.0"/><circle cx="1199.8" cy="407.7" r="4.0"/><circle cx="1201.2" cy="407.5" r="4.0"/><circle cx="1202.1" cy="405.0" r="4.0"/><circle cx="1201.5" cy="403.7" r="4.0"/><circle cx="1204.6" cy="402.6" r="4.0"/><circle cx="1203.5" cy="400.7" r="4.0"/><circle cx="1204.2" cy="398.2" r="4.0"/><circle cx="1204.5" cy="398.5" r="4.0"/><circle cx="1206.1" cy="397.2" r="4.0"/><circle cx="1206.9" cy="394.0" r="4.0"/><circle cx="1208.6" cy="392.3" r="4.0"/><circle cx="1209.1" cy="392.5" r="4.0"/><circle cx="1211.7" cy="390.6" r="4.0"/><circle cx="1211.8" cy="389.3" r="4.0"/><circle cx="1213.8" cy="386.9" r="4.0"/><circle cx="1214.0" cy="384.1" r="4.0"/><circle cx="1215.0" cy="383.5" r="4.0"/><circle cx="1216.0" cy="382.4" r="4.0"/><circle cx="1215.4" cy="379.4" r="4.0"/><circle cx="1218.4" cy="378.0" r="4.0"/><circle cx="1217.9" cy="377.0" r="4.0"/><circle cx="1218.2" cy="376.4" r="4.0"/><circle cx="1221.4" cy="373.7" r="4.0"/><circle cx="1221.3" cy="372.2" r="4.0"/><circle cx="1221.9" cy="370.8" r="4.0"/><circle cx="1221.6" cy="368.7" r="4.0"/><circle cx="1222.6" cy="368.9" r="4.0"/><circle cx="1224.5" cy="365.7" r="4.0"/><circle cx="1226.8" cy="366.0" r="4.0"/><circle cx="1226.4" cy="362.4" r="4.0"/><circle cx="1226.5" cy="360.8" r="4.0"/><circle cx="1228.0" cy="359.2" r="4.0"/><circle cx="1228.7" cy="358.1" r="4.0"/><circle cx="1230.8" cy="358.0" r="4.0"/><circle cx="1232.3" cy="355.3" r="4.0"/><circle cx="1232.3" cy="354.0" r="4.0"/><circle cx="1233.2" cy="352.0" r="4.0"/><circle cx="1233.2" cy="350.3" r="4.0"/><circle cx="1237.1" cy="348.4" r="4.0"/><circle cx="1236.6" cy="348.1" r="4.0"/><circle cx="1238.7" cy="345.5" r="4.0"/><circle cx="1237.8" cy="344.1" r="4.0"/><circle cx="1239.3" cy="343.0" r="4.0"/><circle cx="1242.0" cy="342.4" r="4.0"/><circle cx="1242.8" cy="338.9" r="4.0"/><circle cx="1240.8" cy="338.7" r="4.0"/><circle cx="1244.3" cy="336.3" r="4.0"/><circle cx="1244.0" cy="333.3" r="4.0"/><circle cx="1244.1" cy="333.8" r="4.0"/><circle cx="1246.2" cy="331.8" r="4.0"/><circle cx="1247.4" cy="328.5" r="4.0"/><circle cx="1245.4" cy="326.4" r="4.0"/><circle cx="1247.4" cy="325.9" r="4.0"/><circle cx="1249.5" cy="324.2" r="4.0"/><circle cx="1249.3" cy="322.5" r="4.0"/><circle cx="1249.4" cy="320.1" r="4.0"/><circle cx="1248.7" cy="319.0" r="4.0"/><circle cx="1250.1" cy="317.7" r="4.0"/><circle cx="1252.1" cy="314.5" r="4.0"/><circle cx="1251.1" cy="312.7" r="4.0"/><circle cx="1253.5" cy="312.1" r="4.0"/><circle cx="1252.5" cy="309.0" r="4.0"/><circle cx="1254.5" cy="308.5" r="4.0"/><circle cx="1254.8" cy="306.0" r="4.0"/><circle cx="1256.2" cy="303.8" r="4.0"/><circle cx="1255.9" cy="303.2" r="4.0"/><circle cx="1258.8" cy="302.0" r="4.0"/><circle cx="1259.2" cy="299.9" r="4.0"/><circle cx="1257.8" cy="297.6" r="4.0"/><circle cx="1260.8" cy="296.9" r="4.0"/><circle cx="1259.4" cy="293.4" r="4.0"/><circle cx="1260.7" cy="293.2" r="4.0"/><circle cx="1261.1" cy="290.3" r="4.0"/><circle cx="1262.5" cy="290.1" r="4.0"/><circle cx="1261.8" cy="286.2" r="4.0"/><circle cx="1262.9" cy="285.4" r="4.0"/><circle cx="1264.7" cy="283.1" r="4.0"/><circle cx="1265.8" cy="282.7" r="4.0"/><circle cx="1265.6" cy="279.6" r="4.0"/><circle cx="1267.8" cy="278.1" r="4.0"/><circle cx="1268.0" cy="276.2" r="4.0"/><circle cx="1266.8" cy="275.7" r="4.0"/><circle cx="1267.8" cy="274.4" r="4.0"/><circle cx="1269.1" cy="270.8" r="4.0"/><circle cx="1269.0" cy="269.7" r="4.0"/><circle cx="1271.1" cy="269.2" r="4.0"/><circle cx="1270.2" cy="266.1" r="4.0"/><circle cx="1271.1" cy="265.7" r="4.0"/><circle cx="1271.6" cy="261.8" r="4.0"/><circle cx="1272.2" cy="260.8" r="4.0"/><circle cx="1275.6" cy="260.2" r="4.0"/><circle cx="1275.9" cy="258.8" r="4.0"/><circle cx="1277.3" cy="255.4" r="4.0"/><circle cx="1275.7" cy="255.1" r="4.0"/><circle cx="1278.3" cy="251.2" r="4.0"/><circle cx="1278.8" cy="250.3" r="4.0"/><circle cx="1278.7" cy="248.4" r="4.0"/><circle cx="1278.8" cy="245.8" r="4.0"/><circle cx="1279.9" cy="244.9" r="4.0"/><circle cx="1282.9" cy="242.6" r="4.0"/><circle cx="1283.7" cy="241.1" r="4.0"/><circle cx="1282.5" cy="240.8" r="4.0"/><circle cx="1284.7" cy="238.1" r="4.0"/><circle cx="1283.0" cy="236.6" r="4.0"/><circle cx="1284.7" cy="235.9" r="4.0"/><circle cx="1284.8" cy="232.9" r="4.0"/><circle cx="1287.8" cy="230.4" r="4.0"/><circle cx="1287.0" cy="230.6" r="4.0"/><circle cx="1288.8" cy="227.1" r="4.0"/><circle cx="1287.2" cy="225.4" r="4.0"/><circle cx="1290.7" cy="224.2" r="4.0"/><circle cx="1290.9" cy="224.1" r="4.0"/><circle cx="1290.3" cy="220.9" r="4.0"/><circle cx="1292.9" cy="220.0" r="4.0"/><circle cx="1291.4" cy="218.6" r="4.0"/><circle cx="1292.3" cy="215.8" r="4.0"/><circle cx="1292.0" cy="215.3" r="4.0"/><circle cx="1295.6" cy="213.3" r="4.0"/><circle cx="1296.4" cy="210.1" r="4.0"/><circle cx="1294.9" cy="209.5" r="4.0"/><circle cx="1297.9" cy="209.0" r="4.0"/><circle cx="1296.8" cy="205.6" r="4.0"/><circle cx="1297.6" cy="204.5" r="4.0"/><circle cx="1299.9" cy="202.1" r="4.0"/><circle cx="1300.2" cy="201.7" r="4.0"/><circle cx="1301.0" cy="200.1" r="4.0"/><circle cx="1301.0" cy="197.3" r="4.0"/><circle cx="1300.8" cy="195.7" r="4.0"/><circle cx="1303.0" cy="193.4" r="4.0"/><circle cx="1301.8" cy="193.3" r="4.0"/><circle cx="1302.7" cy="190.0" r="4.0"/><circle cx="1302.6" cy="189.4" r="4.0"/><circle cx="1304.2" cy="188.7" r="4.0"/><circle cx="1306.5" cy="187.0" r="4.0"/><circle cx="1305.2" cy="183.2" r="4.0"/><circle cx="1305.2" cy="182.5" r="4.0"/><circle cx="1307.8" cy="180.6" r="4.0"/><circle cx="1306.9" cy="178.8" r="4.0"/><circle cx="1308.7" cy="177.8" r="4.0"/><circle cx="1309.7" cy="176.5" r="4.0"/><circle cx="1310.1" cy="173.0" r="4.0"/><circle cx="1311.2" cy="171.7" r="4.0"/><circle cx="1311.0" cy="170.2" r="4.0"/><circle cx="1312.1" cy="168.1" r="4.0"/><circle cx="1311.2" cy="166.5" r="4.0"/><circle cx="1311.5" cy="166.3" r="4.0"/><circle cx="1313.4" cy="163.2" r="4.0"/><circle cx="1313.4" cy="163.1" r="4.0"/><circle cx="1314.4" cy="159.6" r="4.0"/><circle cx="1316.0" cy="158.9" r="4.0"/><circle cx="1317.2" cy="155.9" r="4.0"/><circle cx="1316.1" cy="155.9" r="4.0"/><circle cx="1317.9" cy="154.4" r="4.0"/><circle cx="1315.9" cy="151.2" r="4.0"/><circle cx="1316.8" cy="149.3" r="4.0"/><circle cx="1320.2" cy="148.4" r="4.0"/><circle cx="1320.7" cy="146.1" r="4.0"/><circle cx="1321.1" cy="144.5" r="4.0"/><circle cx="1319.8" cy="143.5" r="4.0"/><circle cx="1322.6" cy="140.1" r="4.0"/><circle cx="1322.2" cy="139.6" r="4.0"/><circle cx="1321.6" cy="137.2" r="4.0"/><circle cx="1322.0" cy="135.0" r="4.0"/><circle cx="1323.0" cy="134.2" r="4.0"/><circle cx="1324.9" cy="131.4" r="4.0"/><circle cx="1323.5" cy="129.9" r="4.0"/><circle cx="1326.3" cy="127.8" r="4.0"/><circle cx="1325.8" cy="126.1" r="4.0"/><circle cx="1327.9" cy="125.1" r="4.0"/></g>
<g fill="#000" clip-path="url(#clipD)"><circle cx="1379.8" cy="57.7" r="4.3"/><circle cx="1370.6" cy="60.0" r="4.3"/><circle cx="1368.9" cy="65.7" r="4.3"/><circle cx="1350.5" cy="62.8" r="4.3"/><circle cx="1355.7" cy="68.0" r="4.3"/><circle cx="1344.7" cy="70.9" r="4.3"/><circle cx="1344.2" cy="73.8" r="4.3"/><circle cx="1359.1" cy="76.1" r="4.3"/><circle cx="1359.7" cy="78.4" r="4.3"/><circle cx="1347.6" cy="83.0" r="4.3"/><circle cx="1351.6" cy="85.9" r="4.3"/><circle cx="1340.7" cy="88.7" r="4.3"/><circle cx="1339.0" cy="92.2" r="4.3"/><circle cx="1352.2" cy="95.6" r="4.3"/><circle cx="1345.9" cy="97.9" r="4.3"/><circle cx="1330.4" cy="104.8" r="4.3"/><circle cx="1336.1" cy="110.6" r="4.3"/><circle cx="1326.9" cy="118.6" r="4.3"/><circle cx="1329.2" cy="104.6" r="4.3"/><circle cx="1326.1" cy="120.0" r="4.3"/><circle cx="1320.0" cy="127.6" r="4.3"/><circle cx="1336.9" cy="110.8" r="4.3"/><circle cx="1329.2" cy="130.7" r="4.3"/><circle cx="1320.0" cy="153.8" r="4.3"/><circle cx="1313.8" cy="166.0" r="4.3"/><circle cx="1310.0" cy="176.8" r="4.3"/><circle cx="1305.4" cy="189.0" r="4.3"/></g>
<path d="M1091.00,543.00C1091.53,542.18 1087.75,546.93 1094.20,538.10C1100.65,529.27 1121.07,501.35 1129.70,490.00C1138.33,478.65 1137.53,481.67 1146.00,470.00C1154.47,458.33 1170.25,435.00 1180.50,420.00C1190.75,405.00 1200.95,390.00 1207.50,380.00C1214.05,370.00 1215.57,366.67 1219.80,360.00C1224.03,353.33 1229.08,346.67 1232.90,340.00C1236.72,333.33 1237.27,331.35 1242.70,320.00C1248.13,308.65 1259.33,285.23 1265.50,271.90C1271.67,258.57 1274.22,251.98 1279.70,240.00C1285.18,228.02 1292.08,214.37 1298.40,200.00C1304.72,185.63 1311.97,167.13 1317.60,153.80C1323.23,140.47 1327.97,128.97 1332.20,120.00C1336.43,111.03 1339.47,106.75 1343.00,100.00C1346.53,93.25 1350.33,84.35 1353.40,79.50C1356.47,74.65 1358.63,73.40 1361.40,70.90C1364.17,68.40 1367.18,66.58 1370.00,64.50C1372.82,62.42 1376.92,59.42 1378.30,58.40" fill="none" stroke="#ff0000" stroke-width="4.7" stroke-linecap="round" stroke-linejoin="round" clip-path="url(#clipD)"/>
<path d="M1105.30,540.00C1108.33,535.50 1117.88,521.33 1123.50,513.00C1129.12,504.67 1134.02,497.17 1139.00,490.00C1143.98,482.83 1145.87,481.67 1153.40,470.00C1160.93,458.33 1174.78,435.00 1184.20,420.00C1193.62,405.00 1204.45,388.73 1209.90,380.00C1215.35,371.27 1212.58,375.93 1216.90,367.60C1221.22,359.27 1229.32,343.90 1235.80,330.00C1242.28,316.10 1250.10,297.70 1255.80,284.20C1261.50,270.70 1264.17,263.03 1270.00,249.00C1275.83,234.97 1284.13,216.38 1290.80,200.00C1297.47,183.62 1304.25,164.03 1310.00,150.70C1315.75,137.37 1320.95,128.45 1325.30,120.00C1329.65,111.55 1332.18,106.75 1336.10,100.00C1340.02,93.25 1345.15,84.45 1348.80,79.50C1352.45,74.55 1354.75,72.98 1358.00,70.30C1361.25,67.62 1364.75,65.42 1368.30,63.40C1371.85,61.38 1377.47,59.07 1379.30,58.20" fill="none" stroke="#00ff00" stroke-width="4.7" stroke-linecap="round" stroke-linejoin="round" clip-path="url(#clipD)"/>
<text x="618.00" y="538.00" font-size="18.67" text-anchor="start" fill="#000" font-weight="normal" >Obs. USR</text>
<text x="618.00" y="559.80" font-size="18.67" text-anchor="start" fill="#ff0000" font-weight="normal" >Est. USR</text>
<text x="969.50" y="538.90" font-size="18.67" text-anchor="start" fill="#000" font-weight="normal" >Obs. GR</text>
<text x="969.50" y="561.70" font-size="18.67" text-anchor="start" fill="#ff0000" font-weight="normal" >Est. GR</text>
<text x="1192.50" y="515.60" font-size="18.67" text-anchor="start" fill="#000" font-weight="normal" >Obs. PAR</text>
<text x="1192.50" y="538.60" font-size="18.67" text-anchor="start" fill="#ff0000" font-weight="normal" >Est. PAR from USRGR</text>
<text x="1192.50" y="561.40" font-size="18.67" text-anchor="start" fill="#00ff00" font-weight="normal" >Est. PAR from GCMM</text></svg></body></html>
